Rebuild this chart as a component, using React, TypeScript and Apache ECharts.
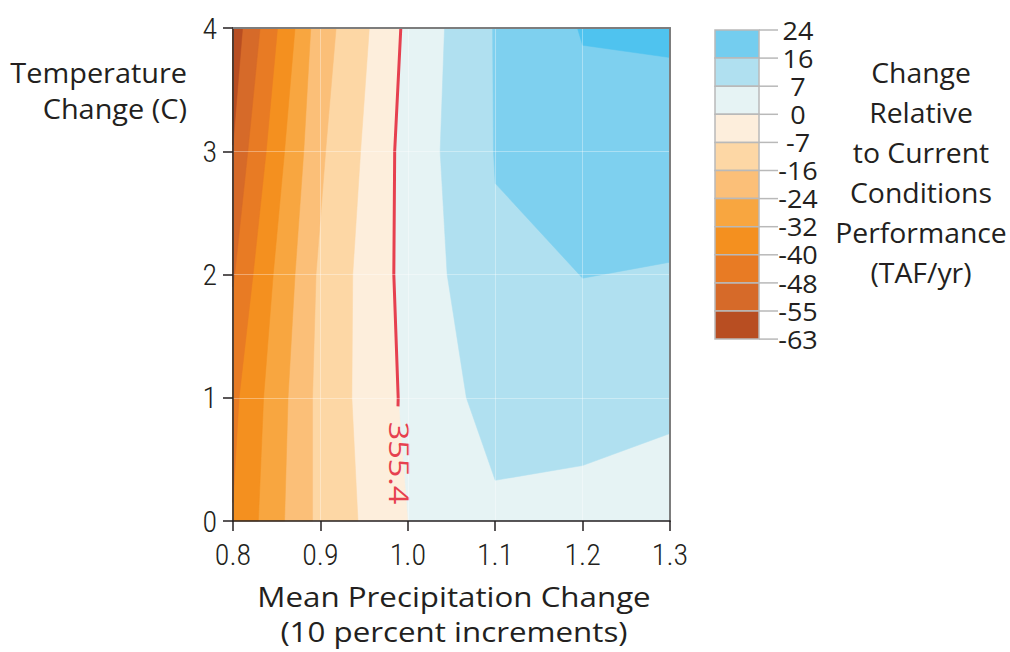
import React, { useEffect, useRef } from "react";
import * as echarts from "echarts";

// ---------------- data ----------------
const xTicks = [0.8, 0.9, 1.0, 1.1, 1.2, 1.3];
const yTicks = [0, 1, 2, 3, 4];

// legend (colour bar) boundaries, top to bottom
const legendLevels = [24, 16, 7, 0, -7, -16, -24, -32, -40, -48, -55, -63];
const legendColors = [
  "#74cdef", "#b0e0f0", "#e6f3f4", "#fdeedc", "#fdd7a5", "#fbbf78",
  "#f8a640", "#f4901f", "#e87b24", "#d66a29", "#b84e22",
];

// contour lines [precipitation factor, temperature change]
const contourNeg55 = [[0.811, 4], [0.8, 3.05]];
const contourNeg48 = [[0.831, 4], [0.817, 3], [0.802, 2], [0.8, 1.9]];
const contourNeg40 = [[0.851, 4], [0.838, 3], [0.823, 2], [0.807, 1], [0.8, 0.15]];
const contourNeg32 = [[0.871, 4], [0.859, 3], [0.846, 2], [0.835, 1], [0.829, 0]];
const contourNeg24 = [[0.889, 4], [0.881, 3], [0.871, 2], [0.863, 1], [0.859, 0]];
const contourNeg16 = [[0.918, 4], [0.906, 3], [0.895, 2], [0.891, 1], [0.891, 0]];
const contourNeg7 = [[0.956, 4], [0.946, 3], [0.937, 2], [0.936, 1], [0.943, 0]];
const contour0 = [[0.992, 4], [0.985, 3], [0.984, 2], [0.989, 1], [1.0, 0]];
const contour7 = [[1.042, 4], [1.037, 3], [1.045, 2], [1.067, 1], [1.1, 0.33], [1.2, 0.45], [1.3, 0.71]];
const contour16 = [[1.097, 4], [1.098, 3], [1.1, 2.74], [1.2, 1.97], [1.3, 2.1]];
const contour24 = [[1.194, 4], [1.2, 3.86], [1.3, 3.76]];

// baseline (current conditions) contour, labelled
const baselineLine = [[0.992, 4], [0.985, 3], [0.984, 2], [0.989, 1], [0.9888, 0.93]];
const baselineLabel = "355.4";
const baselineLabelPos = [0.9905, 0.47];

const baseFill = "#e6f3f4";
const fillNeg = ["#fdeedc", "#fdd7a5", "#fbbf78", "#f8a640", "#f4901f", "#e87b24", "#d66a29", "#b84e22"];
const fillPos = ["#b0e0f0", "#7ed0ef", "#4fc3ef"];

const X_MIN = xTicks[0];
const X_MAX = xTicks[xTicks.length - 1];
const Y_MIN = yTicks[0];
const Y_MAX = yTicks[yTicks.length - 1];

function closeLeft(c: number[][]) {
  return [...c, [X_MIN, c[c.length - 1][1]], [X_MIN, c[0][1]]];
}
function closeRight(c: number[][]) {
  return [...c, [X_MAX, Y_MAX]];
}

const regions = [
  { pts: closeLeft(contour0), color: fillNeg[0] },
  { pts: closeLeft(contourNeg7), color: fillNeg[1] },
  { pts: closeLeft(contourNeg16), color: fillNeg[2] },
  { pts: closeLeft(contourNeg24), color: fillNeg[3] },
  { pts: closeLeft(contourNeg32), color: fillNeg[4] },
  { pts: closeLeft(contourNeg40), color: fillNeg[5] },
  { pts: closeLeft(contourNeg48), color: fillNeg[6] },
  { pts: closeLeft(contourNeg55), color: fillNeg[7] },
  { pts: closeRight(contour7), color: fillPos[0] },
  { pts: closeRight(contour16), color: fillPos[1] },
  { pts: closeRight(contour24), color: fillPos[2] },
];

const TEXT = "#231f20";
const RED = "#e6404f";
const NARROW = '"Roboto Condensed", "DejaVu Sans Condensed", sans-serif';
const TITLE = '"Open Sans", "Noto Sans", sans-serif';

export default function App() {
  const ref = useRef<HTMLDivElement>(null);

  useEffect(() => {
    if (!ref.current) return;
    const chart = echarts.init(ref.current, null, { renderer: "svg" });

    const boxX = 715, boxW = 44, boxTop = 30, boxH = 28.1;
    const legendGraphics: any[] = [];
    legendColors.forEach((c, i) => {
      legendGraphics.push({
        type: "rect",
        shape: { x: boxX, y: boxTop + i * boxH, width: boxW, height: boxH },
        style: { fill: c, stroke: "#b9b9b9", lineWidth: 1.5 },
      });
    });
    legendLevels.forEach((lv, i) => {
      const y = boxTop + i * boxH;
      legendGraphics.push({
        type: "line",
        shape: { x1: boxX + boxW, y1: y, x2: 778, y2: y },
        style: { stroke: "#b9b9b9", lineWidth: 1.5 },
      });
      legendGraphics.push({
        type: "text",
        x: 798,
        y,
        scaleX: 1.08,
        style: {
          text: String(lv), fill: TEXT, fontSize: 25, fontFamily: TITLE,
          align: "center", verticalAlign: "middle",
        },
      });
    });

    const option: any = {
      animation: false,
      backgroundColor: "#ffffff",
      grid: {
        left: 233, right: 340, top: 28, bottom: 131,
        show: true, backgroundColor: baseFill, borderWidth: 0,
      },
      xAxis: [
        {
          type: "value", min: X_MIN, max: X_MAX, interval: 0.1, z: 5,
          axisLine: { show: true, onZero: false, lineStyle: { color: TEXT, width: 1.5 } },
          axisTick: { show: true, length: 10, lineStyle: { color: TEXT, width: 1.5 } },
          axisLabel: {
            margin: 18, fontSize: 30, fontWeight: 300, fontFamily: NARROW, color: TEXT,
            formatter: (v: number) => v.toFixed(1),
          },
          splitLine: { show: true, lineStyle: { color: "rgba(255,255,255,0.35)", width: 1 } },
        },
        {
          type: "value", position: "top", min: X_MIN, max: X_MAX, interval: 0.1, z: 5,
          axisLine: { show: true, onZero: false, lineStyle: { color: "#7d7d7d", width: 2 } },
          axisTick: { show: false }, axisLabel: { show: false }, splitLine: { show: false },
        },
      ],
      yAxis: [
        {
          type: "value", min: Y_MIN, max: Y_MAX, interval: 1, z: 5,
          axisLine: { show: true, onZero: false, lineStyle: { color: TEXT, width: 1.5 } },
          axisTick: { show: true, length: 10, lineStyle: { color: TEXT, width: 1.5 } },
          axisLabel: { margin: 16, fontSize: 30, fontWeight: 300, fontFamily: NARROW, color: TEXT },
          splitLine: { show: true, lineStyle: { color: "rgba(255,255,255,0.35)", width: 1 } },
        },
        {
          type: "value", position: "right", min: Y_MIN, max: Y_MAX, interval: 1, z: 5,
          axisLine: { show: true, onZero: false, lineStyle: { color: "#7d7d7d", width: 2 } },
          axisTick: { show: false }, axisLabel: { show: false }, splitLine: { show: false },
        },
      ],
      series: [
        {
          type: "custom",
          coordinateSystem: "cartesian2d",
          silent: true,
          z: 1,
          data: regions.map((_, i) => [1.05, 2, i]),
          encode: { x: 0, y: 1 },
          renderItem: (_params: any, api: any) => {
            const r = regions[api.value(2)];
            return {
              type: "polygon",
              z2: api.value(2),
              shape: { points: r.pts.map((p) => api.coord(p)) },
              style: { fill: r.color, stroke: r.color, lineWidth: 0.5 },
            };
          },
        },
        {
          type: "line",
          data: baselineLine,
          symbol: "none",
          z: 3,
          lineStyle: { color: RED, width: 3 },
        },
        {
          type: "custom",
          coordinateSystem: "cartesian2d",
          silent: true,
          z: 3,
          data: [baselineLabelPos],
          renderItem: (_params: any, api: any) => {
            const p = api.coord([api.value(0), api.value(1)]);
            return {
              type: "text",
              x: p[0],
              y: p[1],
              rotation: -Math.PI / 2,
              scaleX: 1.2,
              style: {
                text: baselineLabel, fill: RED, fontSize: 27, fontFamily: TITLE,
                align: "center", verticalAlign: "middle",
              },
            };
          },
        },
      ],
      graphic: [
        ...legendGraphics,
        {
          type: "text", x: 921, y: 52, scaleX: 1.05,
          style: {
            text: "Change\nRelative\nto Current\nConditions\nPerformance\n(TAF/yr)",
            fill: TEXT, fontSize: 27, lineHeight: 40, fontFamily: TITLE,
            align: "center", verticalAlign: "top",
          },
        },
        {
          type: "text", x: 187, y: 54, scaleX: 1.07,
          style: {
            text: "Temperature\nChange (C)", fill: TEXT, fontSize: 27, lineHeight: 36,
            fontFamily: TITLE, align: "right", verticalAlign: "top",
          },
        },
        {
          type: "text", x: 454, y: 579, scaleX: 1.16,
          style: {
            text: "Mean Precipitation Change\n(10 percent increments)", fill: TEXT,
            fontSize: 27, lineHeight: 35, fontFamily: TITLE, align: "center", verticalAlign: "top",
          },
        },
      ],
    };

    chart.setOption(option);
    return () => chart.dispose();
  }, []);

  return (
    <div
      ref={ref}
      style={{ position: "absolute", left: 0, top: 0, width: 1010, height: 652, background: "#fff" }}
    />
  );
}
